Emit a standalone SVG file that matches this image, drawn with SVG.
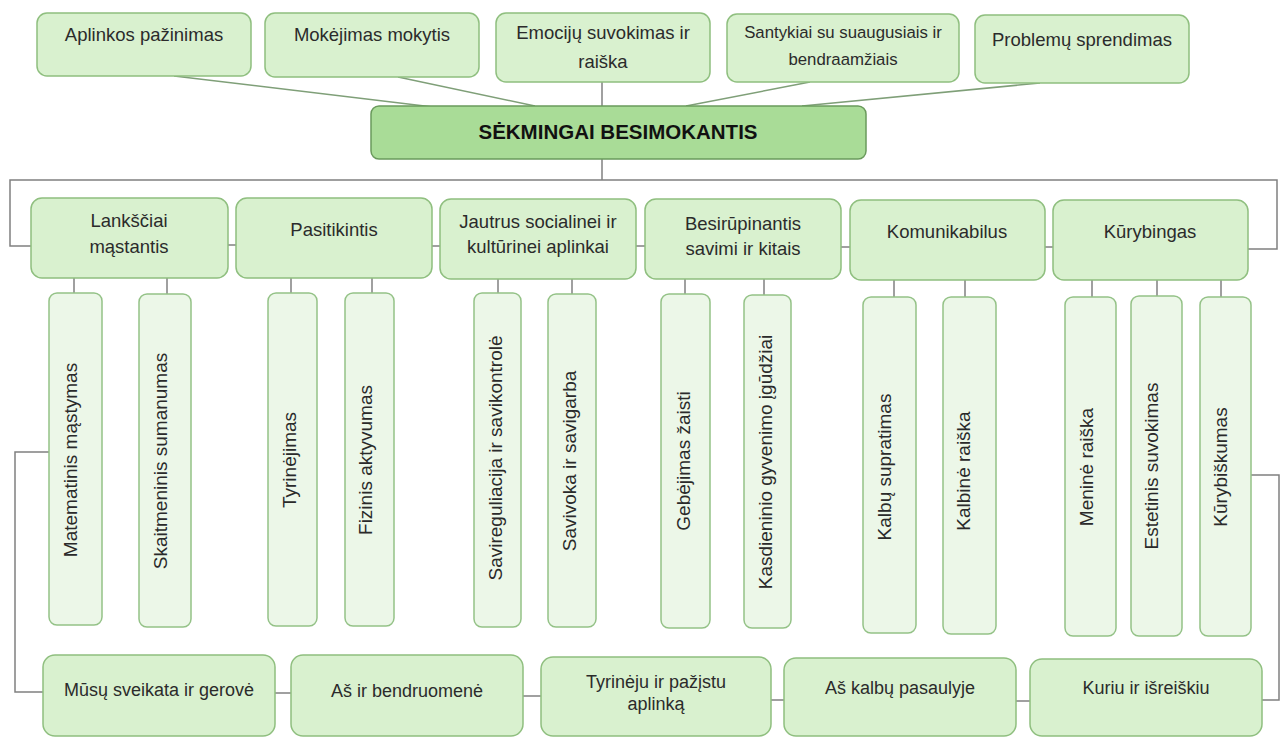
<svg xmlns="http://www.w3.org/2000/svg" width="1286" height="738" viewBox="0 0 1286 738">
<style>
.box{fill:#d9f1cf;stroke:#8fbf7f;stroke-width:1.5}
.vbox{fill:#ecf7e8;stroke:#94c287;stroke-width:1.5}
.main{fill:#a9dc97;stroke:#6a9a5c;stroke-width:1.5}
.t{font-family:"Liberation Sans",Arial,sans-serif;fill:#2b2b2b;text-anchor:middle}
.t17{font-size:18.5px}
.tb{font-size:18px}
.t155{font-size:16.8px}
.t18{font-size:18.5px}
.tv{font-family:"Liberation Sans",Arial,sans-serif;fill:#2a2a2a;text-anchor:middle;font-size:19px}
.title{font-family:"Liberation Sans",Arial,sans-serif;font-weight:bold;font-size:20.5px;fill:#111;text-anchor:middle}
.c{fill:none;stroke:#808080;stroke-width:1.5}
.cg{fill:none;stroke:#7f9f78;stroke-width:1.5}
</style>
<rect width="1286" height="738" fill="#ffffff"/>

<g id="connectors">
<line class="cg" x1="174" y1="76" x2="433" y2="107"/>
<line class="cg" x1="398" y1="77" x2="535" y2="106"/>
<line class="c" x1="602" y1="82" x2="602" y2="106"/>
<line class="cg" x1="810" y1="82" x2="686" y2="106"/>
<line class="cg" x1="1040" y1="83" x2="802" y2="106"/>
<line class="c" x1="602" y1="159" x2="602" y2="180"/>
<path class="c" d="M31,246 H10 V180 H1277 V249 H1248"/>
<line class="c" x1="228" y1="245" x2="236" y2="245"/>
<line class="c" x1="432" y1="246" x2="440" y2="246"/>
<line class="c" x1="636" y1="246" x2="645" y2="246"/>
<line class="c" x1="841" y1="247" x2="850" y2="247"/>
<line class="c" x1="1045" y1="247" x2="1053" y2="247"/>
<line class="c" x1="74" y1="278" x2="74" y2="293"/>
<line class="c" x1="167" y1="278" x2="167" y2="294"/>
<line class="c" x1="291" y1="278" x2="291" y2="293"/>
<line class="c" x1="372" y1="278" x2="372" y2="293"/>
<line class="c" x1="498" y1="279" x2="498" y2="293"/>
<line class="c" x1="572" y1="279" x2="572" y2="294"/>
<line class="c" x1="685" y1="279" x2="685" y2="294"/>
<line class="c" x1="764" y1="279" x2="764" y2="295"/>
<line class="c" x1="894" y1="280" x2="894" y2="297"/>
<line class="c" x1="965" y1="280" x2="965" y2="297"/>
<line class="c" x1="1092" y1="280" x2="1092" y2="297"/>
<line class="c" x1="1157" y1="280" x2="1157" y2="296"/>
<line class="c" x1="1221" y1="280" x2="1221" y2="297"/>
<path class="c" d="M49,452 H15 V692 H43"/>
<path class="c" d="M1251,475 H1279 V700 H1262"/>
<line class="c" x1="275" y1="693" x2="291" y2="693"/>
<line class="c" x1="523" y1="696" x2="541" y2="696"/>
<line class="c" x1="771" y1="700" x2="784" y2="700"/>
<line class="c" x1="1016" y1="701" x2="1030" y2="701"/>
</g>

<g id="top1"><rect class="box" x="37" y="13" width="214" height="63" rx="10"/><text class="t t17" x="144" y="41">Aplinkos pažinimas</text></g>
<g id="top2"><rect class="box" x="265" y="13" width="214" height="64" rx="10"/><text class="t t17" x="372" y="41">Mokėjimas mokytis</text></g>
<g id="top3"><rect class="box" x="496" y="13" width="214" height="69" rx="10"/><text class="t t17" x="603" y="39">Emocijų suvokimas ir</text><text class="t t17" x="603" y="68">raiška</text></g>
<g id="top4"><rect class="box" x="727" y="14" width="232" height="68" rx="10"/><text class="t t155" x="843" y="38">Santykiai su suaugusiais ir</text><text class="t t155" x="843" y="65">bendraamžiais</text></g>
<g id="top5"><rect class="box" x="975" y="15" width="214" height="68" rx="10"/><text class="t t17" x="1082" y="46">Problemų sprendimas</text></g>

<g id="center"><rect class="main" x="371" y="106" width="495" height="53" rx="8"/><text class="title" x="618" y="139">SĖKMINGAI BESIMOKANTIS</text></g>

<g id="m1"><rect class="box" x="31" y="198" width="197" height="80" rx="11"/><text class="t t18" x="129" y="227">Lankščiai</text><text class="t t18" x="129" y="253">mąstantis</text></g>
<g id="m2"><rect class="box" x="236" y="198" width="196" height="80" rx="11"/><text class="t t18" x="334" y="236">Pasitikintis</text></g>
<g id="m3"><rect class="box" x="440" y="199" width="196" height="80" rx="11"/><text class="t t18" x="538" y="228">Jautrus socialinei ir</text><text class="t t18" x="538" y="253">kultūrinei aplinkai</text></g>
<g id="m4"><rect class="box" x="645" y="199" width="196" height="80" rx="11"/><text class="t t18" x="743" y="230">Besirūpinantis</text><text class="t t18" x="743" y="255">savimi ir kitais</text></g>
<g id="m5"><rect class="box" x="850" y="200" width="195" height="80" rx="11"/><text class="t t18" x="947" y="238">Komunikabilus</text></g>
<g id="m6"><rect class="box" x="1053" y="200" width="195" height="80" rx="11"/><text class="t t18" x="1150" y="238">Kūrybingas</text></g>

<g id="v1"><rect class="vbox" x="49" y="293" width="53" height="332" rx="8"/><text class="tv" transform="translate(70,460) rotate(-90)" dy="6.5">Matematinis mąstymas</text></g>
<g id="v2"><rect class="vbox" x="139" y="294" width="52" height="333" rx="8"/><text class="tv" transform="translate(160,461) rotate(-90)" dy="6.5">Skaitmeninis sumanumas</text></g>
<g id="v3"><rect class="vbox" x="268" y="293" width="49" height="333" rx="8"/><text class="tv" transform="translate(289,460) rotate(-90)" dy="6.5">Tyrinėjimas</text></g>
<g id="v4"><rect class="vbox" x="345" y="293" width="49" height="333" rx="8"/><text class="tv" transform="translate(365,460) rotate(-90)" dy="6.5">Fizinis aktyvumas</text></g>
<g id="v5"><rect class="vbox" x="474" y="293" width="47" height="334" rx="8"/><text class="tv" transform="translate(495,458) rotate(-90)" dy="6.5">Savireguliacija ir savikontrolė</text></g>
<g id="v6"><rect class="vbox" x="548" y="294" width="48" height="333" rx="8"/><text class="tv" transform="translate(569,461) rotate(-90)" dy="6.5">Savivoka ir savigarba</text></g>
<g id="v7"><rect class="vbox" x="661" y="294" width="49" height="334" rx="8"/><text class="tv" transform="translate(683,461) rotate(-90)" dy="6.5">Gebėjimas žaisti</text></g>
<g id="v8"><rect class="vbox" x="744" y="295" width="47" height="333" rx="8"/><text class="tv" transform="translate(765,462) rotate(-90)" dy="6.5">Kasdieninio gyvenimo įgūdžiai</text></g>
<g id="v9"><rect class="vbox" x="863" y="297" width="53" height="336" rx="8"/><text class="tv" transform="translate(884,467) rotate(-90)" dy="6.5">Kalbų supratimas</text></g>
<g id="v10"><rect class="vbox" x="943" y="297" width="53" height="337" rx="8"/><text class="tv" transform="translate(963,471) rotate(-90)" dy="6.5">Kalbinė raiška</text></g>
<g id="v11"><rect class="vbox" x="1065" y="297" width="51" height="339" rx="8"/><text class="tv" transform="translate(1086,467) rotate(-90)" dy="6.5">Meninė raiška</text></g>
<g id="v12"><rect class="vbox" x="1131" y="296" width="51" height="340" rx="8"/><text class="tv" transform="translate(1151,466) rotate(-90)" dy="6.5">Estetinis suvokimas</text></g>
<g id="v13"><rect class="vbox" x="1200" y="297" width="51" height="339" rx="8"/><text class="tv" transform="translate(1220,467) rotate(-90)" dy="6.5">Kūrybiškumas</text></g>

<g id="b1"><rect class="box" x="43" y="655" width="232" height="81" rx="12"/><text class="t tb" x="159" y="696">Mūsų sveikata ir gerovė</text></g>
<g id="b2"><rect class="box" x="291" y="655" width="232" height="81" rx="12"/><text class="t tb" x="407" y="697">Aš ir bendruomenė</text></g>
<g id="b3"><rect class="box" x="541" y="657" width="230" height="79" rx="12"/><text class="t tb" x="656" y="688">Tyrinėju ir pažįstu</text><text class="t tb" x="656" y="710">aplinką</text></g>
<g id="b4"><rect class="box" x="784" y="658" width="232" height="78" rx="12"/><text class="t tb" x="900" y="694">Aš kalbų pasaulyje</text></g>
<g id="b5"><rect class="box" x="1030" y="659" width="232" height="77" rx="12"/><text class="t tb" x="1146" y="694">Kuriu ir išreiškiu</text></g>
</svg>
